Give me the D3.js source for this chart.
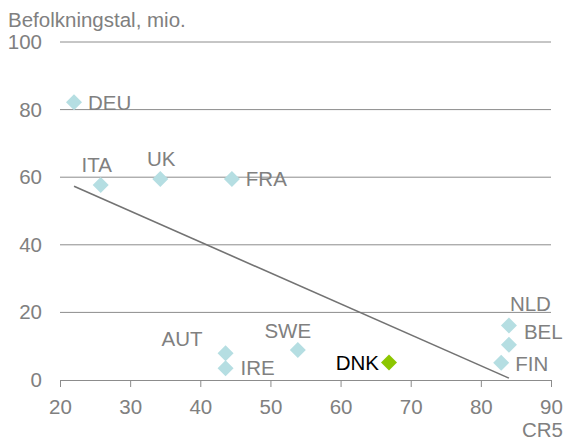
<!DOCTYPE html>
<html lang="da">
<head>
  <meta charset="UTF-8">
  <title>CR5 og befolkningstal</title>
  <script src="https://cdn.jsdelivr.net/npm/d3@7"></script>
  <style>
    body { margin: 0; background: #fff; }
    svg { display: block; font-family: "Liberation Sans", Arial, sans-serif; }
  </style>
</head>
<body>
<svg width="565" height="440"></svg>
<script>
  // data
  const countries = ["DEU", "ITA", "UK", "FRA", "AUT", "IRE", "SWE", "DNK", "NLD", "BEL", "FIN"]
  const cr5 = [22.0, 25.8, 34.3, 44.5, 43.6, 43.6, 53.9, 66.9, 84.0, 84.0, 82.9]
  const population = [82.2, 57.7, 59.5, 59.5, 7.9, 3.5, 8.9, 5.2, 16.1, 10.4, 5.1]
  const xTicks = [20, 30, 40, 50, 60, 70, 80, 90]
  const yTicks = [0, 20, 40, 60, 80, 100]

  // where each label sits next to its diamond
  const labelPos = {
    DEU: { anchor: "start", dx: 14, dy: 8 },
    ITA: { anchor: "middle", dx: -4, dy: -13 },
    UK: { anchor: "middle", dx: 1, dy: -13 },
    FRA: { anchor: "start", dx: 14, dy: 7 },
    AUT: { anchor: "end", dx: -23, dy: -7 },
    IRE: { anchor: "start", dx: 15, dy: 7 },
    SWE: { anchor: "middle", dx: -10, dy: -12 },
    DNK: { anchor: "end", dx: -10, dy: 8 },
    NLD: { anchor: "start", dx: 1, dy: -15 },
    BEL: { anchor: "start", dx: 15, dy: -6 },
    FIN: { anchor: "start", dx: 14, dy: 8 }
  }

  const points = countries.map((c, i) => ({ name: c, x: cr5[i], y: population[i] }))

  const svg = d3.select("svg")
  const x = d3.scaleLinear().domain([20, 90]).range([60, 551])
  const y = d3.scaleLinear().domain([0, 100]).range([380, 42])
  const grey = "#808080"
  const fs = 20.5

  svg.append("text")
    .attr("x", 8).attr("y", 27)
    .attr("fill", grey)
    .attr("font-size", fs)
    .text("Befolkningstal, mio.")

  // gridlines
  svg.append("g")
    .selectAll("line")
    .data(yTicks.filter(d => d > 0))
    .join("line")
    .attr("x1", x(20)).attr("x2", x(90))
    .attr("y1", d => y(d)).attr("y2", d => y(d))
    .attr("stroke", "#8c8c8c")
    .attr("stroke-width", 1)

  // y labels
  svg.append("g")
    .selectAll("text")
    .data(yTicks)
    .join("text")
    .attr("x", 42)
    .attr("y", d => y(d) + 7)
    .attr("text-anchor", "end")
    .attr("fill", grey)
    .attr("font-size", fs)
    .text(d => d)

  // x axis
  const xAxis = svg.append("g")
    .attr("transform", `translate(0,${y(0)})`)
    .call(d3.axisBottom(x).tickValues(xTicks).tickSize(7).tickPadding(12).tickSizeOuter(0))
  xAxis.select(".domain").attr("stroke", "#8c8c8c")
  xAxis.selectAll(".tick line").attr("stroke", "#8c8c8c")
  xAxis.selectAll(".tick text")
    .attr("fill", grey)
    .attr("font-size", fs)
    .attr("font-family", "Liberation Sans, Arial, sans-serif")

  svg.append("text")
    .attr("x", 563).attr("y", 437)
    .attr("text-anchor", "end")
    .attr("fill", grey)
    .attr("font-size", fs)
    .text("CR5")

  // least squares trend line over all countries
  const mx = d3.mean(cr5), my = d3.mean(population)
  const slope = d3.sum(cr5, (v, i) => (v - mx) * (population[i] - my)) / d3.sum(cr5, v => (v - mx) ** 2)
  const x0 = d3.min(cr5), x1 = d3.max(cr5)
  svg.append("line")
    .attr("x1", x(x0)).attr("y1", y(my + slope * (x0 - mx)))
    .attr("x2", x(x1)).attr("y2", y(my + slope * (x1 - mx)))
    .attr("stroke", "#737373")
    .attr("stroke-width", 1.6)

  // diamonds
  const diamond = d3.symbol().type(d3.symbolSquare).size(128)
  svg.append("g")
    .selectAll("path")
    .data(points)
    .join("path")
    .attr("d", diamond)
    .attr("transform", d => `translate(${x(d.x)},${y(d.y)}) rotate(45)`)
    .attr("fill", d => d.name === "DNK" ? "#8cc600" : "#b5dee2")

  svg.append("g")
    .selectAll("text")
    .data(points)
    .join("text")
    .attr("x", d => x(d.x) + labelPos[d.name].dx)
    .attr("y", d => y(d.y) + labelPos[d.name].dy)
    .attr("text-anchor", d => labelPos[d.name].anchor)
    .attr("fill", d => d.name === "DNK" ? "#000" : grey)
    .attr("font-size", fs)
    .text(d => d.name)
</script>
</body>
</html>
